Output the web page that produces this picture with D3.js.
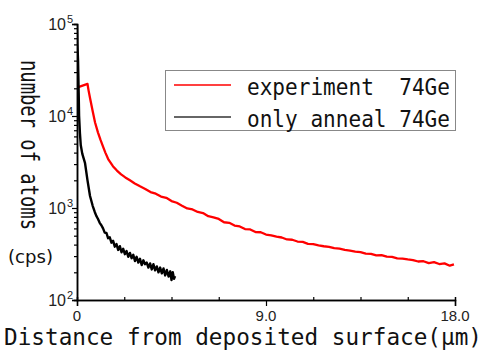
<!DOCTYPE html>
<html><head><meta charset="utf-8">
<script src="https://cdn.jsdelivr.net/npm/d3@7"></script>
<style>body{margin:0;background:#fff}svg{display:block}</style>
</head><body>
<svg id="c" width="485" height="352"></svg>
<script>
const expX = [0.0,0.03,0.5,0.55,0.62,0.75,0.86,1.0,1.12,1.24,1.35,1.5,1.71,1.9,2.1,2.3,2.52,2.75,3.0,3.25,3.5,3.75,4.0,4.25,4.5,4.75,
  5.0,5.25,5.5,5.75,6.0,6.25,6.5,6.75,7.0,7.25,7.5,7.75,8.0,8.25,8.5,8.75,9.0,9.25,9.5,9.75,10.0,10.25,10.5,10.75,11.0,11.25,11.5,11.75,
  12.0,12.25,12.5,12.75,13.0,13.25,13.5,13.75,14.0,14.25,14.5,14.75,15.0,15.25,15.5,15.75,16.0,16.25,16.5,16.75,17.0,17.25,17.5,17.75,17.95];
const expY = [8600,20500,22300,19000,15700,11200,8500,6600,5500,4650,4000,3350,2850,2550,2320,2150,2000,1850,1720,1610,1490,1430,1330,1290,1190,1140,
  1060,990,965,905,880,815,790,760,700,690,645,630,590,585,548,545,515,505,488,478,455,452,432,428,408,405,392,384,
  378,366,362,350,345,336,332,320,318,306,308,296,294,284,282,276,272,262,264,252,258,246,250,236,244];
const annX = [0.0,0.02,0.05,0.08,0.10,0.14,0.18,0.25,0.38,0.5,0.62,0.75,0.85,0.92,
  1.00,1.08,1.16,1.24,1.32,1.40,1.48,1.56,1.64,1.72,1.80,1.88,1.96,2.04,2.12,2.20,2.28,2.36,2.44,2.52,2.60,2.68,2.76,2.84,2.92,
  3.00,3.08,3.16,3.24,3.32,3.40,3.48,3.56,3.64,3.72,3.80,3.88,3.96,4.04,4.12,4.20,4.28,4.36,4.44,4.50,4.56,4.62,4.67];
const annY = [100000,60000,40000,18000,10000,6500,4800,3900,3100,2000,1350,1050,900,820,
  760,690,650,600,540,535,470,480,420,440,380,405,350,385,330,360,315,340,295,325,285,310,265,295,255,
  280,240,270,245,255,225,250,215,245,210,232,200,225,195,220,185,212,180,205,165,200,170,182];
const xTicks = [0, 9, 18];
const xTickLabels = ["0", "9.0", "18.0"];
const xMinor = [2.25, 4.5, 6.75, 11.25, 13.5, 15.75];
const yDecades = [2, 3, 4, 5];
const legendLabels = ["experiment  74Ge", "only anneal 74Ge"];
const seriesColors = ["#ff0000", "#000000"];

const svg = d3.select("#c");
const x = d3.scaleLinear().domain([0, 18]).range([77, 455]);
const y = d3.scaleLog().domain([100, 100000]).range([300, 24]);

svg.append("clipPath").attr("id","clip").append("rect")
  .attr("x", 77).attr("y", 22).attr("width", 380).attr("height", 278);

const line = d3.line().x(d => x(d[0])).y(d => y(d[1]));
const expData = expX.map((v,i)=>[v, expY[i]]);
const annData = annX.map((v,i)=>[v, annY[i]]);
const g = svg.append("g").attr("clip-path","url(#clip)");
g.append("path").datum(expData).attr("d", line).attr("fill","none")
  .attr("stroke", seriesColors[0]).attr("stroke-width", 2.3).attr("stroke-linejoin","round");
g.append("path").datum(annData).attr("d", line).attr("fill","none")
  .attr("stroke", seriesColors[1]).attr("stroke-width", 2.4).attr("stroke-linejoin","round");

// Y axis
const minorY = [];
for (let e = 2; e < 5; e++) for (let m = 2; m <= 9; m++) minorY.push(m * Math.pow(10, e));
const yAxisG = svg.append("g").attr("transform", "translate(77,0)");
yAxisG.call(d3.axisLeft(y).tickValues(minorY).tickSize(3).tickFormat(""));
yAxisG.append("g").call(d3.axisLeft(y).tickValues(yDecades.map(e=>Math.pow(10,e))).tickSize(5).tickFormat(""));
yAxisG.selectAll("path.domain").attr("stroke","#000").attr("stroke-width",1.5);
yAxisG.selectAll("line").attr("stroke","#000").attr("stroke-width",1.2);

yDecades.forEach(e => {
  svg.append("text").attr("x", 66).attr("y", y(Math.pow(10,e)) + 6)
    .attr("text-anchor","end").attr("font-family","Liberation Sans, Arial, sans-serif")
    .attr("font-size", 16).attr("fill","#222").text("10");
  svg.append("text").attr("x", 67).attr("y", y(Math.pow(10,e)) - 1)
    .attr("font-family","Liberation Sans, Arial, sans-serif")
    .attr("font-size", 11).attr("fill","#222").text(String(e));
});

// X axis
const xAxisG = svg.append("g").attr("transform", "translate(0,300)");
xAxisG.call(d3.axisBottom(x).tickValues(xTicks).tickSize(6).tickFormat(""));
xAxisG.append("g").call(d3.axisTop(x).tickValues(xMinor).tickSize(3).tickFormat(""));
xAxisG.selectAll("path.domain").attr("stroke","#000").attr("stroke-width",1.5);
xAxisG.selectAll("line").attr("stroke","#000").attr("stroke-width",1.2);
xTicks.forEach((v,i) => {
  svg.append("text").attr("x", x(v)).attr("y", 321).attr("text-anchor","middle")
    .attr("font-family","Liberation Sans, Arial, sans-serif").attr("font-size", 15)
    .attr("fill","#222").text(xTickLabels[i]);
});

// Axis titles
svg.append("text").attr("x", 4).attr("y", 345)
  .attr("font-family","DejaVu Sans Mono, monospace").attr("font-size", 22.5)
  .attr("textLength", 478).attr("lengthAdjust","spacingAndGlyphs")
  .attr("fill","#111").text("Distance from deposited surface(μm)");
svg.append("text").attr("transform","translate(21,60) rotate(90)")
  .attr("font-family","DejaVu Sans Mono, monospace").attr("font-size", 24)
  .attr("textLength", 170).attr("lengthAdjust","spacingAndGlyphs")
  .attr("fill","#111").text("number of atoms");
svg.append("text").attr("x", 8).attr("y", 263)
  .attr("font-family","DejaVu Sans, sans-serif").attr("font-size", 17)
  .attr("textLength", 45).attr("lengthAdjust","spacingAndGlyphs")
  .attr("fill","#111").text("(cps)");

// Legend
svg.append("rect").attr("x",165.5).attr("y",70.5).attr("width",290).attr("height",60)
  .attr("fill","#fff").attr("stroke","#888").attr("stroke-width",1);
legendLabels.forEach((lab,i) => {
  const yy = 85 + i*32;
  svg.append("line").attr("x1",174).attr("x2",231).attr("y1",yy).attr("y2",yy)
    .attr("stroke", i===0 ? seriesColors[0] : "#333").attr("stroke-width",1.6);
  svg.append("text").attr("x",247).attr("y", yy + 10)
    .attr("font-family","DejaVu Sans Mono, monospace").attr("font-size", 23)
    .attr("textLength", 203).attr("lengthAdjust","spacingAndGlyphs")
    .attr("fill","#111").attr("xml:space","preserve").style("white-space","pre").text(lab);
});
</script>
</body></html>
